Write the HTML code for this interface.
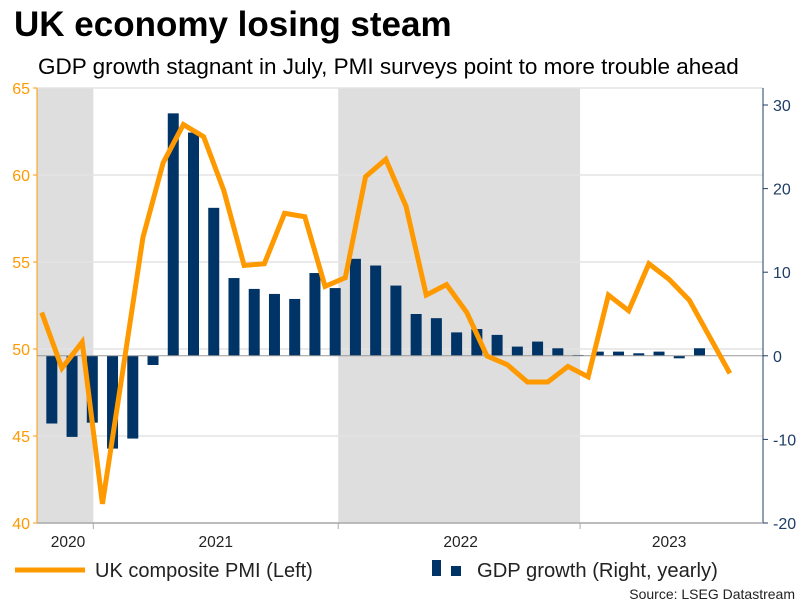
<!DOCTYPE html>
<html><head><meta charset="utf-8"><style>
body{margin:0;background:#fff;font-family:"Liberation Sans",Arial,sans-serif;}
#wrap{position:relative;width:806px;height:605px;overflow:hidden;}
</style></head><body>
<div id="wrap">
<svg id="chart" width="806" height="605" xmlns="http://www.w3.org/2000/svg">
<text x="14" y="36" font-size="35" font-weight="bold" fill="#000">UK economy losing steam</text>
<text x="38" y="74" font-size="22.5" fill="#000">GDP growth stagnant in July, PMI surveys point to more trouble ahead</text>
<g id="bands"></g><g id="grid"></g><g id="bars"></g><g id="line"></g><g id="axes"></g>
<g>
<line x1="15" y1="570" x2="85" y2="570" stroke="#ff9900" stroke-width="5"/>
<text x="95" y="577" font-size="20" fill="#222">UK composite PMI (Left)</text>
<rect x="432" y="560" width="9" height="16" fill="#003366"/>
<rect x="451" y="566" width="10" height="10" fill="#003366"/>
<text x="477" y="577" font-size="20.2" fill="#222">GDP growth (Right, yearly)</text>
</g>
<text x="795" y="599" font-size="14" fill="#222" text-anchor="end">Source: LSEG Datastream</text>
</svg>
</div>
<script>
const pmiValues=[52.1,48.9,50.4,41.1,48.7,56.4,60.7,62.9,62.2,59.1,54.8,54.9,57.8,57.6,53.6,54.1,59.9,60.9,58.2,53.1,53.7,52.1,49.6,49.1,48.1,48.1,49.0,48.4,53.1,52.2,54.9,54.0,52.8,50.7,48.6];
const gdpValues=[-8.1,-9.7,-8.0,-11.1,-9.9,-1.1,29.0,26.7,17.7,9.3,8.0,7.4,6.8,9.9,8.1,11.6,10.8,8.4,5.0,4.5,2.8,3.2,2.5,1.1,1.7,0.9,0.1,0.5,0.5,0.3,0.5,-0.3,0.9];
const leftTicks=[40,45,50,55,60,65];
const rightTicks=[-20,-10,0,10,20,30];
const yearLabels=["2020","2021","2022","2023"];
const yearLabelPos=[1.3,8.6,20.7,31];
const yearTickPos=[2.55,14.65,26.6];
const bandRanges=[[-0.25,2.55],[14.65,26.6]];

const X0=37,X1=763,T=88,B=523;
const x=i=>41.7+20.24*i;
const yL=v=>B-(v-40)*(B-T)/25;
const yR=v=>B-(v+20)*8.36;
const NS="http://www.w3.org/2000/svg";
function mk(tag,parent,attrs){const e=document.createElementNS(NS,tag);for(const k in attrs)e.setAttribute(k,attrs[k]);document.getElementById(parent).appendChild(e);return e;}

bandRanges.forEach(r=>{
 const e=mk('rect','bands',{x:Math.max(X0,x(r[0])),y:T,width:x(r[1])-Math.max(X0,x(r[0])),height:B-T,fill:'#dedede'});
 
 
});
leftTicks.forEach(v=>{
 const g=mk('line','grid',{x1:X0,x2:X1,y1:yL(v),y2:yL(v),stroke:'#e4e4e4','stroke-width':1.5});
 
 
 const t=mk('text','axes',{x:30,y:yL(v)+6,'font-size':16,fill:'#ff9900','text-anchor':'end'});
 t.textContent=v;
 
 
 const tk=mk('line','axes',{x1:X0-4,x2:X0,y1:yL(v),y2:yL(v),stroke:'#ff9900'});
 
 
});
rightTicks.forEach(v=>{
 const t=mk('text','axes',{x:773,y:yR(v)+6,'font-size':16,fill:'#1f3d66'});
 t.textContent=v;
 
 
 const tk=mk('line','axes',{x1:X1,x2:X1+5,y1:yR(v),y2:yR(v),stroke:'#1f3d66'});
 
 
});
gdpValues.forEach((v,i)=>{
 const cx=x(i+0.5),y0=yR(0),y1=yR(v);
 const r=mk('rect','bars',{x:cx-5.5,y:Math.min(y0,y1),width:11,height:Math.max(1,Math.abs(y1-y0)),fill:'#003366'});
 
 
});
const zl=mk('line','bars',{x1:X0,x2:X1,y1:yR(0),y2:yR(0),stroke:'#999','stroke-width':1});


const pl=mk('polyline','line',{points:pmiValues.map((v,i)=>x(i)+','+yL(v)).join(' '),fill:'none',stroke:'#ff9900','stroke-width':5,'stroke-linejoin':'miter'});


const la=mk('line','axes',{x1:X0,x2:X0,y1:T,y2:B,stroke:'#ff9900'});


const ra=mk('line','axes',{x1:X1,x2:X1,y1:T,y2:B,stroke:'#1f3d66'});


const xa=mk('line','axes',{x1:X0,x2:X1,y1:B,y2:B,stroke:'#aaa','stroke-width':1.5});


yearTickPos.forEach(p=>{
 const t=mk('line','axes',{x1:x(p),x2:x(p),y1:B,y2:B+6,stroke:'#aaa'});
 
 
});
yearLabels.forEach((s,i)=>{
 const t=mk('text','axes',{x:x(yearLabelPos[i]),y:547,'font-size':15.5,fill:'#222','text-anchor':'middle'});
 t.textContent=s;
 
 
});
</script>
</body></html>
